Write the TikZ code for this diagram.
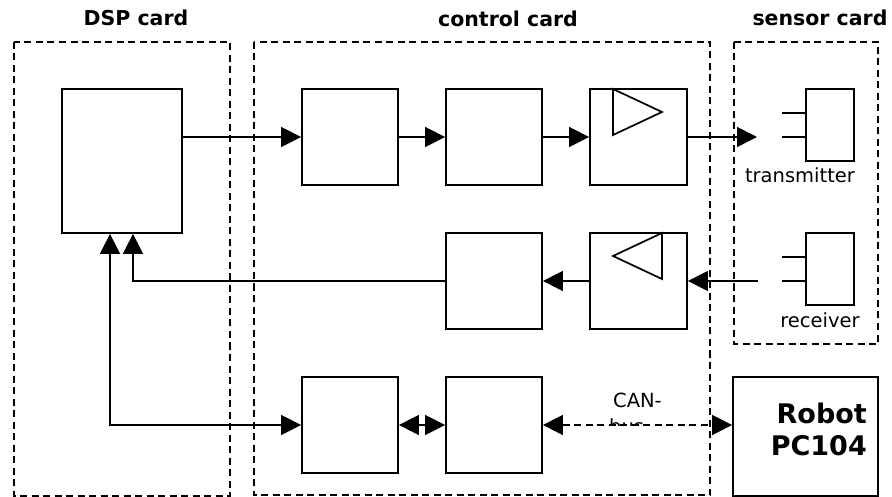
\documentclass[tikz,border=0pt]{standalone}
\usepackage{fontspec}
\setmainfont{DejaVu Sans}
\usetikzlibrary{arrows.meta}
\tikzset{
  blk/.style={draw, line width=1.8pt, minimum width=96pt, minimum height=96pt, inner sep=0pt},
  card/.style={draw, line width=1.8pt, dash pattern=on 7pt off 4.5pt},
  conn/.style={line width=1.6pt},
  arr/.style={conn, -{Triangle[length=20pt,width=20pt]}},
  arrb/.style={conn, {Triangle[length=20pt,width=20pt]}-{Triangle[length=20pt,width=20pt]}},
  title/.style={font=\fontsize{20.5}{24}\selectfont\bfseries, anchor=base, inner sep=0pt},
  lbl/.style={font=\fontsize{19.5}{23}\selectfont, anchor=base, inner sep=0pt},
  amp/.style={line width=1.7pt}
}
\begin{document}
\begin{tikzpicture}[x=1pt,y=-1pt]
\useasboundingbox (0,0) rectangle (892,497);
\fill[white] (0,0) rectangle (892,497);
% cards
\draw[card] (14,42) rectangle (230,496);
\draw[card] (254,42) rectangle (710,495);
\draw[card] (734,42) rectangle (878,344);
% titles
\node[title] (t1) at (136,26) {DSP card};
\node[title] (t2) at (508,27) {control card};
\node[title] (t3) at (820,26) {sensor card};
% blocks
\node[blk, minimum width=120pt, minimum height=144pt] (DSP) at (122,161) {};
\node[blk] (A) at (350,137) {};
\node[blk] (B) at (494,137) {};
\node[blk, minimum width=97pt] (C) at (638.5,137) {};
\node[blk] (D) at (494,281) {};
\node[blk, minimum width=97pt] (E) at (638.5,281) {};
\node[blk] (F) at (350,425) {};
\node[blk] (G) at (494,425) {};
\node[blk, minimum width=145pt, minimum height=119pt] (robot) at (805.5,436.5) {};
\node[font=\fontsize{27}{32}\selectfont\bfseries, anchor=base east, inner sep=0pt] (r1) at (867,423) {Robot};
\node[font=\fontsize{27}{32}\selectfont\bfseries, anchor=base east, inner sep=0pt] (r2) at (867,455) {PC104};
% amplifier triangles
\draw[amp] (613,89) -- (613,135) -- (662,112) -- cycle;
\draw[amp] (662,233) -- (662,279) -- (613,256) -- cycle;
% transmitter / receiver
\node[blk, minimum width=48pt, minimum height=72pt] (tx) at (830,125) {};
\node[blk, minimum width=48pt, minimum height=72pt] (rx) at (830,269) {};
\coordinate (tx1) at (782,113);
\coordinate (tx2) at (782,137);
\coordinate (rx1) at (782,257);
\coordinate (rx2) at (782,281);
\draw[amp] (tx1) -- (tx1 -| tx.west);
\draw[amp] (tx2) -- (tx2 -| tx.west);
\draw[amp] (rx1) -- (rx1 -| rx.west);
\draw[amp] (rx2) -- (rx2 -| rx.west);
\node[lbl] (txl) at (800,183) {transmitter};
\node[lbl] (rxl) at (820,327) {receiver};
% connectors
\coordinate (txarr) at (757,137);
\coordinate (rxarr) at (758,281);
\draw[arr] (DSP.east |- A.west) -- (A.west);
\draw[arr] (A.east) -- (B.west);
\draw[arr] (B.east) -- (C.west);
\draw[arr] (C.east) -- (txarr);
\draw[arr] (rxarr) -- (E.east);
\draw[arr] (E.west) -- (D.east);
\draw[arr] (D.west) -| ([xshift=11pt]DSP.south);
\draw[arrb] ([xshift=-12pt]DSP.south) |- (F.west);
\draw[arrb] (F.east) -- (G.west);
% CAN-bus
\node[lbl, anchor=base west] (can) at (613,407) {CAN-};
\begin{scope}
\clip (600,400) rectangle (670,425);
\node[lbl, anchor=base west] (bus) at (609,433) {bus};
\end{scope}
\draw[arrb, dash pattern=on 7pt off 4.5pt] (G.east) -- (robot.west |- G.east);
\end{tikzpicture}
\end{document}
